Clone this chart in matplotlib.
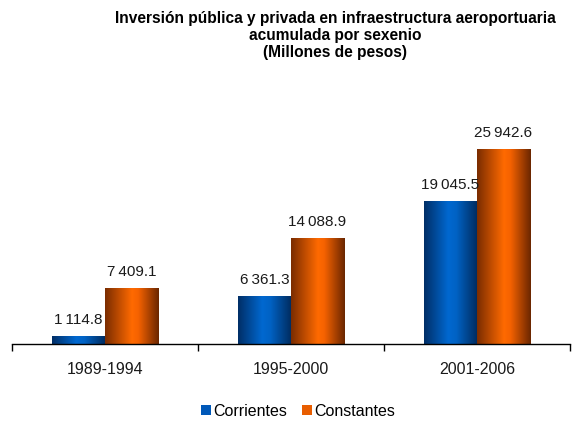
import numpy as np
import matplotlib
matplotlib.use("Agg")
import matplotlib.pyplot as plt
from matplotlib.colors import LinearSegmentedColormap
from matplotlib.patches import Patch

plt.rcParams['font.family'] = ['Liberation Sans', 'DejaVu Sans']

categories = ["1989-1994", "1995-2000", "2001-2006"]
corrientes = [1114.8, 6361.3, 19045.5]
constantes = [7409.1, 14088.9, 25942.6]
series_names = ["Corrientes", "Constantes"]
title = "Inversión pública y privada en infraestructura aeroportuaria\nacumulada por sexenio\n(Millones de pesos)"

def fmt(v):
    s = f"{v:,.1f}"
    return s.replace(",", "\u2009")

fig = plt.figure(figsize=(5.72, 4.23), dpi=100)
ax = fig.add_axes([0.021, 0.1868, 0.9755, 0.533])

x = np.arange(len(categories))
w = 0.285
b1 = ax.bar(x - w/2, corrientes, w, color="#0060c0")
b2 = ax.bar(x + w/2, constantes, w, color="#ff6600")

cmap_blue = LinearSegmentedColormap.from_list("b", [(0, "#002e66"), (0.45, "#0068d0"), (0.6, "#0062c4"), (1, "#002a5c")])
cmap_or = LinearSegmentedColormap.from_list("o", [(0, "#7a2c00"), (0.5, "#ff6a00"), (0.62, "#f56200"), (1, "#6a2600")])
grad = np.linspace(0, 1, 256).reshape(1, -1)
for bars, cm in ((b1, cmap_blue), (b2, cmap_or)):
    for p in bars:
        x0, y0 = p.get_x(), p.get_y()
        im = ax.imshow(grad, cmap=cm, aspect="auto",
                       extent=(x0, x0 + p.get_width(), y0, y0 + p.get_height()),
                       zorder=p.get_zorder() + 0.1, interpolation="bilinear")
        im.set_clip_path(p)

for bars, vals in ((b1, corrientes), (b2, constantes)):
    for p, v in zip(bars, vals):
        ax.annotate(fmt(v), (p.get_x() + p.get_width()/2, p.get_height()),
                    xytext=(0, 6.5), textcoords="offset points",
                    ha="center", va="bottom", fontsize=11, color="#1a1a1a")

ax.set_xlim(-0.5, len(categories) - 0.5)
ax.set_ylim(0, 30000)
for s in ("left", "right", "top"):
    ax.spines[s].set_visible(False)
ax.spines["bottom"].set_linewidth(1.0)
ax.set_yticks([])
ax.set_xticks(np.arange(len(categories) + 1) - 0.5)
ax.set_xticklabels([])
ax.tick_params(axis="x", which="major", length=5, width=1, direction="out")
ax.set_xticks(x, minor=True)
ax.set_xticklabels(categories, minor=True, fontsize=11.5, color="#1a1a1a")
ax.tick_params(axis="x", which="minor", length=0, pad=13)

fig.text(0.586, 0.975, title, ha="center", va="top", fontsize=11.2,
         fontweight="bold", linespacing=1.17)

handles = [Patch(facecolor="#0058b8", edgecolor="none"), Patch(facecolor="#e85d00", edgecolor="none")]
fig.legend(handles, series_names, loc="center", bbox_to_anchor=(0.521, 0.028),
           ncol=2, frameon=False, fontsize=11.5, handlelength=0.6, handleheight=0.55,
           handletextpad=0.15, columnspacing=0.95, borderpad=0.1)

fig.savefig("out.png", dpi=100)
